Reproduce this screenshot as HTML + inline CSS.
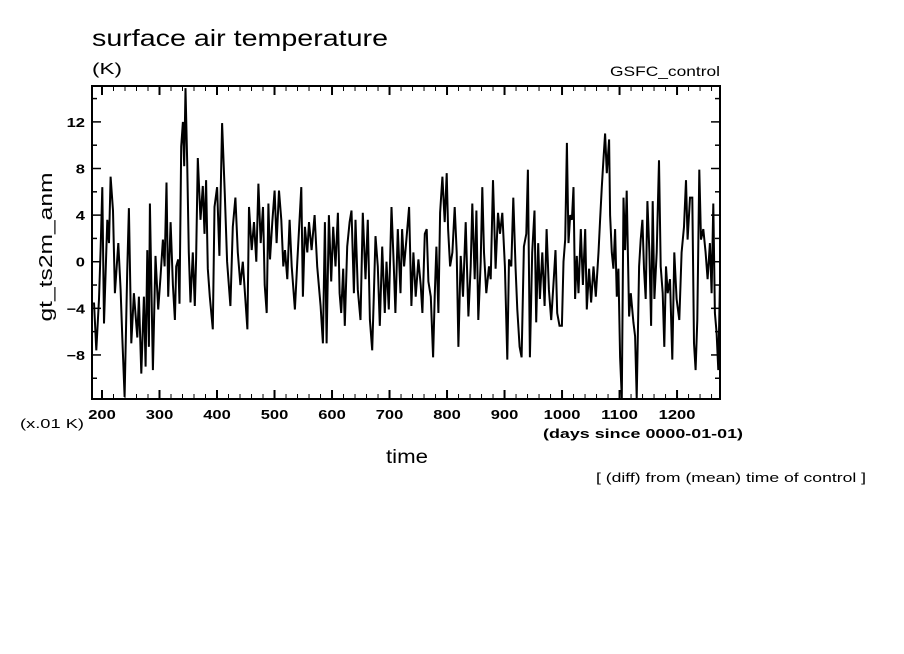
<!DOCTYPE html>
<html><head><meta charset="utf-8"><style>
html,body{margin:0;padding:0;background:#fff;}
svg{display:block;font-family:"Liberation Sans","DejaVu Sans",sans-serif;}
</style></head><body>
<svg id="chart" width="904" height="654" viewBox="0 0 904 654" xmlns="http://www.w3.org/2000/svg">
<text x="92" y="46" font-size="23" fill="#000" textLength="296" lengthAdjust="spacingAndGlyphs">surface air temperature</text>
<text x="92" y="74" font-size="16" fill="#000" textLength="30" lengthAdjust="spacingAndGlyphs">(K)</text>
<text x="720" y="76" font-size="14" text-anchor="end" fill="#000" textLength="110" lengthAdjust="spacingAndGlyphs">GSFC_control</text>
<text transform="translate(52,247) rotate(-90)" font-size="18" text-anchor="middle" fill="#000" textLength="149" lengthAdjust="spacingAndGlyphs">gt_ts2m_anm</text>
<text x="20" y="428" font-size="13" fill="#000" textLength="64" lengthAdjust="spacingAndGlyphs">(x.01 K)</text>
<text x="386" y="463" font-size="19" fill="#000" textLength="42" lengthAdjust="spacingAndGlyphs">time</text>
<text x="543" y="438" font-size="13" font-weight="bold" fill="#000" textLength="200" lengthAdjust="spacingAndGlyphs">(days since 0000-01-01)</text>
<text x="596" y="482" font-size="12.5" fill="#000" textLength="270" lengthAdjust="spacingAndGlyphs">[ (diff) from (mean) time of control ]</text>
<defs><clipPath id="clip"><rect x="92" y="86" width="628" height="313"/></clipPath></defs>
<g id="ticks"></g>
<g id="series" clip-path="url(#clip)"></g>
<rect x="92" y="86" width="628" height="313" fill="none" stroke="#000" stroke-width="2"/>
</svg>
<script>
const days = [186.1,190.1,194.8,197.7,200.5,203.4,209.2,212.1,215.0,219.1,222.5,228.3,232.4,235.3,239.3,243.9,246.8,250.9,255.5,261.3,264.2,268.3,272.9,275.8,278.7,281.6,283.3,288.5,293.1,297.8,301.8,305.9,308.8,312.2,315.1,319.2,323.2,326.7,329.0,332.5,334.8,337.7,340.6,342.9,345.2,348.1,351.0,353.9,357.9,361.4,363.7,366.6,371.3,375.3,378.2,381.1,384.0,387.5,392.7,395.6,400.2,404.2,408.9,413.5,417.6,423.3,427.4,432.0,436.1,440.7,444.8,
452.8,455.7,460.3,464.4,468.4,471.9,475.9,480.0,482.9,486.4,489.3,492.1,496.2,500.2,503.7,507.8,511.8,515.3,518.2,522.2,526.3,529.8,535.5,539.6,546.5,549.4,552.9,557.0,559.9,564.5,569.7,574.3,580.1,584.2,587.6,590.5,594.6,598.6,602.1,606.1,610.2,613.1,616.0,619.5,622.3,626.4,630.5,633.9,638.0,640.9,644.9,649.6,653.6,658.2,662.3,665.8,669.8,672.7,675.6,679.6,683.1,687.2,691.8,694.7,698.7,703.4,707.4,710.3,714.4,719.0,721.9,
725.4,729.4,734.1,738.1,741.6,745.6,750.3,754.3,757.2,761.3,764.7,767.6,771.7,775.7,778.6,781.5,785.0,787.9,791.9,796.0,799.5,801.8,805.3,809.3,813.4,816.8,819.7,823.8,827.8,832.5,837.1,841.1,844.0,848.1,851.0,854.4,858.5,861.4,864.3,868.3,873.0,875.9,879.9,884.5,888.6,892.1,896.1,900.7,904.8,907.7,911.7,915.2,919.3,922.2,926.2,929.7,933.7,937.8,940.7,944.1,948.2,952.2,955.1,958.6,961.5,965.6,969.6,973.1,977.1,981.2,985.8,988.7,991.6,995.6,
999.7,1002.6,1005.5,1008.4,1011.3,1014.2,1017.1,1020.0,1022.8,1025.7,1028.6,1032.7,1036.2,1040.2,1043.1,1047.1,1050.6,1054.7,1058.7,1063.4,1066.2,1069.1,1072.0,1074.9,1077.8,1081.9,1083.6,1086.5,1089.4,1092.3,1095.2,1098.1,1101.0,1103.9,1106.8,1109.6,1112.5,1116.6,1119.5,1124.1,1127.0,1129.9,1134.0,1136.8,1139.7,1142.6,1145.5,1148.4,1151.9,1154.8,1157.7,1160.6,1164.6,1168.7,1171.6,1175.0,1177.9,1180.8,1183.7,1187.8,1191.8,1195.3,1199.3,1204.0,1208.0,1212.1,1215.5,1218.4,1222.5,1226.5,1229.4,1232.3,1235.2,1238.7,1241.6,1245.6,1249.7,1253.2,1257.2,1260.1,1263.0,1265.9,1268.8,1271.7,1274.6,1277.5];
const anomaly = [-3.5,-7.6,-3.2,1.3,6.4,-5.3,3.6,1.6,7.3,4.4,-2.7,1.6,-2.4,-6.5,-11.6,-0.9,4.6,-7,-2.7,-6.5,-3,-9.6,-3,-9,1,-7.3,5,-9.3,0.5,-4.1,-1.3,1.9,-0.4,6.8,-3,3.4,-2,-5,-0.4,0.2,-3.6,9.9,12,8.2,14.9,8.5,0.8,-3.5,0.8,-3.8,0.2,8.9,3.6,6.5,2.4,7,-0.6,-3,-5.8,4.7,6.4,0.5,11.9,5.8,0,-3.8,3,5.5,0.8,-2,0,
-5.8,4.7,1,3.4,0,6.7,1.6,4.7,-2,-4.4,5,0.2,3.4,6.1,1.6,6.1,3.6,-0.4,1,-1.5,3.6,-0.4,-4.1,0,6.4,-3,3,0.8,3.4,1,4,-0.4,-3.8,-7,3.4,-7,4,-1.7,3,-0.4,4.2,-2.7,-4.4,-0.6,-5.5,1.3,3.4,4.4,-2.7,3.6,-2.4,-5,4.2,-1.5,3.6,-5,-7.6,-3,2.2,-0.4,-5.5,1.3,-4.4,0,-4.1,4.7,-0.4,-4.4,2.8,-2.7,2.8,
-0.4,1.9,4.7,-3.8,0.8,-3,0.2,-2,-4.4,2.4,2.8,-1.7,-3,-8.2,-3,1.3,-4.4,4.2,7.3,3.4,7.6,2.8,-0.4,0.8,4.7,0.8,-7.3,0.5,-3,3.4,-4.7,-0.4,5,-1.5,4.4,-5,0,6.4,0.8,-2.7,-0.4,-1.5,7,-0.6,4.2,2.4,4.2,-0.4,-8.4,0.2,-0.4,5.5,-0.6,-4.1,-7.3,-8.2,1.3,2.4,7.9,-8.2,0.8,4.4,-5.2,1.6,-3.2,0.8,-3.8,2.8,-2.4,-5,-1.3,1,-4.4,-5.5,
-5.5,0,1.9,10.2,1.6,4,3.6,6.4,-3.2,0.5,-2.7,2.8,-2,2.8,-4.1,-0.6,-3.5,-0.4,-3,0.8,3.6,6.4,8.7,11,7.6,10.5,4,0.8,-0.6,2.8,-3,-0.6,-8.2,-11.7,5.5,1,6.1,-4.7,-2.7,-5.2,-6.4,-11.7,-0.4,1.9,3.6,-0.6,-3.2,5.2,0.8,-5.5,5.2,-3.2,0.8,8.7,-0.4,-2.7,-7.3,-0.4,-2.7,-1.5,-8.4,0.8,-3.2,-5,0.8,3,7,1.9,5.5,5.5,-7,-9.3,-5,7.9,1.9,2.8,0.8,-1.5,1.6,-2.7,5,-4.4,-6.1,-9.3,-2,-4.4];
const xTickLabels = ["200","300","400","500","600","700","800","900","1000","1100","1200"];
const yTickLabels = ["-8","-4","0","4","8","12"];

const X0 = 182.6, X1 = 1274.7, Y0 = -11.78, Y1 = 15.08;
const L = 92, R = 720, T = 86, B = 399;
function xs(d){ return L + (d - X0) / (X1 - X0) * (R - L); }
function ys(v){ return B - (v - Y0) / (Y1 - Y0) * (B - T); }
const NS = "http://www.w3.org/2000/svg";
const svg = document.getElementById('chart');
const tg = document.getElementById('ticks');
function mk(tag, attrs, parent){ const e = document.createElementNS(NS, tag); for (const k in attrs) e.setAttribute(k, attrs[k]); parent.appendChild(e); return e; }

for (let d = 200; d <= X1; d += 20) {
  const x = xs(d), len = (d % 100 === 0) ? 9 : 5;
  const t1 = mk('line', {x1:x, y1:B, x2:x, y2:B-len, stroke:'#000', 'stroke-width':(d%100===0)?2:1}, tg);
  
  
  const t2 = mk('line', {x1:x, y1:T, x2:x, y2:T+len, stroke:'#000', 'stroke-width':(d%100===0)?2:1}, tg);
  
  
}
xTickLabels.forEach(s => {
  const t = mk('text', {x:xs(+s), y:419, 'font-size':13, 'font-weight':'bold', 'text-anchor':'middle', fill:'#000', textLength: s.length * 9.2, lengthAdjust:'spacingAndGlyphs'}, svg);
  t.textContent = s;
  
  
});
for (let v = -10; v <= 14; v += 2) {
  const y = ys(v), len = (v % 4 === 0) ? 9 : 5;
  const t1 = mk('line', {x1:L, y1:y, x2:L+len, y2:y, stroke:'#000', 'stroke-width':1.5}, tg);
  
  
  const t2 = mk('line', {x1:R, y1:y, x2:R-len, y2:y, stroke:'#000', 'stroke-width':1.5}, tg);
  
  
}
yTickLabels.forEach(s => {
  const t = mk('text', {x:85, y:ys(+s)+5, 'font-size':13, 'font-weight':'bold', 'text-anchor':'end', fill:'#000', textLength: s.length * 9.2, lengthAdjust:'spacingAndGlyphs'}, svg);
  t.textContent = s.replace('-', '\u2212');
  
  
});
const pts = days.map((d, i) => xs(d).toFixed(1) + ',' + ys(anomaly[i]).toFixed(1)).join(' ');
const line = mk('polyline', {points:pts, fill:'none', stroke:'#000', 'stroke-width':2, 'stroke-linejoin':'miter', 'stroke-miterlimit':2}, document.getElementById('series'));


</script>
</body></html>
